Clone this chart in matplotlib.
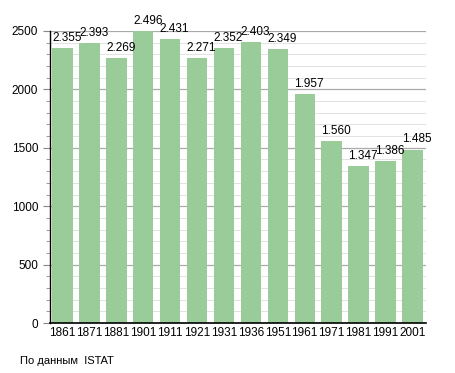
import numpy as np
import matplotlib.pyplot as plt
from matplotlib.ticker import MultipleLocator

years = ['1861', '1871', '1881', '1901', '1911', '1921', '1931',
         '1936', '1951', '1961', '1971', '1981', '1991', '2001']
population = [2355, 2393, 2269, 2496, 2431, 2271, 2352,
              2403, 2349, 1957, 1560, 1347, 1386, 1485]
labels = ['2.355', '2.393', '2.269', '2.496', '2.431', '2.271', '2.352',
          '2.403', '2.349', '1.957', '1.560', '1.347', '1.386', '1.485']

plt.rcParams['font.family'] = ['Liberation Sans', 'DejaVu Sans']

fig = plt.figure(figsize=(4.55, 3.73), dpi=100)
ax = fig.add_axes([0.11, 0.134, 0.826, 0.783])

x = np.arange(len(years))
w = 0.76
ax.bar(x, population, width=w, color='#99cc99', zorder=2)

# value labels, left-aligned on each bar
for xi, v, lab in zip(x, population, labels):
    ax.text(xi - w / 2, v + 35, lab, ha='left', va='bottom', fontsize=8.5,
            color='black', zorder=3)

ax.set_xlim(-0.5 + (1 - w) / 2 - 0.08, len(years) - 0.5)
ax.set_ylim(0, 2500)
ax.set_xticks(x)
ax.set_xticklabels(years, fontsize=8.5)
ax.yaxis.set_major_locator(MultipleLocator(500))
ax.yaxis.set_minor_locator(MultipleLocator(100))
ax.tick_params(axis='y', labelsize=8.5, length=5, width=0.8, color='#888888')
ax.tick_params(axis='y', which='minor', length=3, width=0.6, color='#888888')
ax.tick_params(axis='x', length=0, pad=3)

ax.grid(axis='y', which='major', color='#aaaaaa', linewidth=0.9, zorder=0)
ax.grid(axis='y', which='minor', color='#e2e2e2', linewidth=0.7, zorder=0)
ax.set_axisbelow(True)

for s in ['top', 'right']:
    ax.spines[s].set_visible(False)
ax.spines['left'].set_linewidth(1.0)
ax.spines['bottom'].set_linewidth(1.2)

fig.text(20 / 455, 1 - 361 / 373, 'По данным  ISTAT', fontsize=8,
         ha='left', va='center')

fig.savefig('out.png', dpi=100)
